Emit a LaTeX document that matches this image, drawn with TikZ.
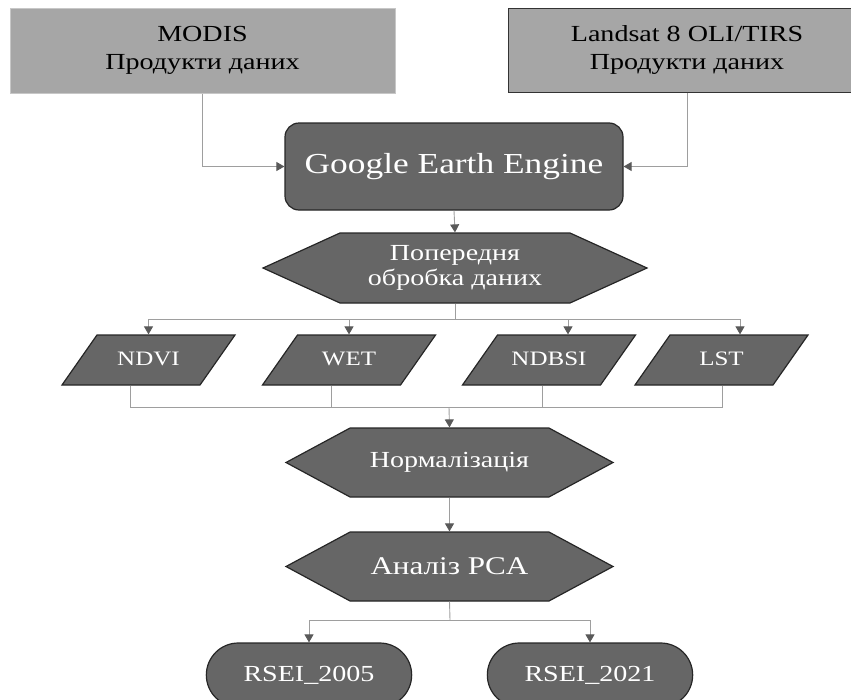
\documentclass[tikz,border=0pt]{standalone}
\usepackage{fontspec}
\setmainfont[FakeStretch=1.22]{Liberation Serif}
\usetikzlibrary{shapes,arrows.meta,positioning}
\tikzstyle{srcnode} = [rectangle, fill=black!35, line width=1pt, minimum height=85pt, inner sep=0pt, align=center, font=\fontsize{23}{28}\selectfont]
\tikzstyle{enginenode} = [rectangle, rounded corners=14pt, draw=black!85, fill=black!60, line width=1.2pt, text=white, minimum width=338pt, minimum height=87pt, font=\fontsize{29}{34}\selectfont]
\tikzstyle{hexnode} = [signal, signal to=east and west, draw=black!85, fill=black!60, line width=1.2pt, text=white, align=center, inner sep=0pt]
\tikzstyle{pnode} = [trapezium, trapezium left angle=55, trapezium right angle=125, draw=black!85, fill=black!60, line width=1.2pt, text=white, text width=103pt, align=center, text height=14pt, text depth=4pt, inner xsep=0pt, inner ysep=16pt, font=\fontsize{20.5}{24}\selectfont]
\tikzstyle{endnode} = [rounded rectangle, draw=black!85, fill=black!60, line width=1.2pt, text=white, minimum width=212pt, minimum height=64pt, font=\fontsize{23}{28}\selectfont]
\tikzstyle{line} = [draw=black!38, line width=0.9pt]
\tikzstyle{arrow} = [line, -{Triangle[width=9pt,length=8pt,color=black!65]}]

\begin{document}
\begin{tikzpicture}[x=1pt, y=-1pt]
			\useasboundingbox (0,0) rectangle (851,699);

			\node [srcnode, draw=black!22, minimum width=385pt] (modis) at (202.5, 50.5) {MODIS\\Продукти даних};
			\node [srcnode, draw=black!80, minimum width=358pt, minimum height=84pt] (landsat) at (687, 50) {Landsat 8 OLI/TIRS\\Продукти даних};
			\node [enginenode] (gee) at (454, 166.5) {Google Earth Engine};
			\node [hexnode, signal pointer angle=48.9, minimum width=384pt, minimum height=70pt, font=\fontsize{23}{25}\selectfont] (prep) at (455, 268) {Попередня\\обробка даних};
			\node [pnode] (ndvi) at (148.5, 360) {NDVI};
			\node [pnode] (wet) at (349, 360) {WET};
			\node [pnode] (ndbsi) at (549, 360) {NDBSI};
			\node [pnode] (lst) at (721.5, 360) {LST};
			\node [hexnode, signal pointer angle=56.6, minimum width=327pt, minimum height=69pt, font=\fontsize{23}{28}\selectfont] (norm) at (449.5, 462.5) {Нормалізація};
			\node [hexnode, signal pointer angle=56.6, minimum width=327pt, minimum height=69pt, font=\fontsize{25.5}{30}\selectfont] (pca) at (449.5, 566.5) {Аналіз PCA};
			\node [endnode] (rsei05) at (309, 675) {RSEI\_2005};
			\node [endnode] (rsei21) at (590, 675) {RSEI\_2021};

			\coordinate (split1) at (455, 319);
			\coordinate (join1) at (449, 407);
			\coordinate (split2) at (450, 620);

			\path [arrow] (modis.south) |- (gee.west);
			\path [arrow] (landsat.south) |- (gee.east);
			\path [arrow] (gee.south) -- (prep.north);
			\path [line] (prep.south) -- (split1);
			\path [arrow] (split1) -| (ndvi.north);
			\path [arrow] (split1) -| (wet.north);
			\path [arrow] (split1) -| ([xshift=19pt]ndbsi.north);
			\path [arrow] (split1) -| ([xshift=18.5pt]lst.north);
			\path [line] (ndvi.bottom side) |- (join1);
			\path [line] (wet.bottom side) |- (join1);
			\path [line] ([xshift=11pt]ndbsi.bottom side) |- (join1);
			\path [line] ([xshift=19pt]lst.bottom side) |- (join1);
			\path [arrow] (join1) -- (norm.north);
			\path [arrow] (norm.south) -- (pca.north);
			\path [line] (pca.south) -- (split2);
			\path [arrow] (split2) -| (rsei05.north);
			\path [arrow] (split2) -| (rsei21.north);
		\end{tikzpicture}
\end{document}
